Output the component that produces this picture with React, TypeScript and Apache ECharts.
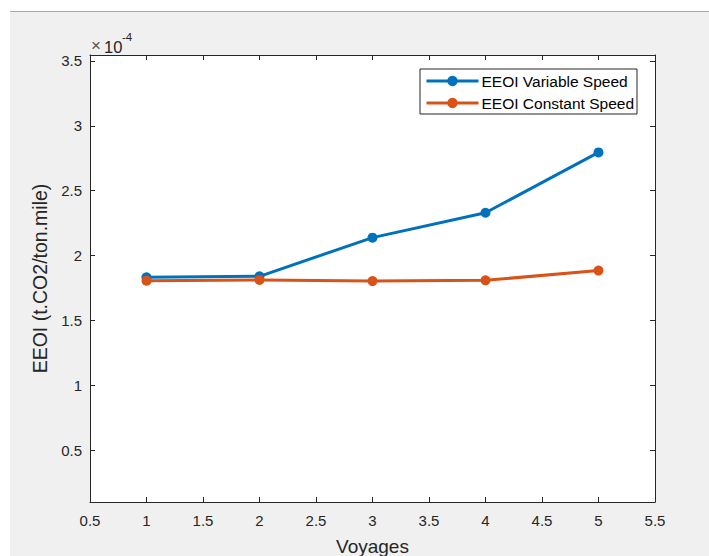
import React, { useEffect, useRef } from "react";
import * as echarts from "echarts";

const voyages = [1, 2, 3, 4, 5];
const eeoiVariable = [1.832e-4, 1.84e-4, 2.138e-4, 2.33e-4, 2.795e-4];
const eeoiConstant = [1.806e-4, 1.812e-4, 1.803e-4, 1.809e-4, 1.884e-4];
const yTicks = [0.5e-4, 1e-4, 1.5e-4, 2e-4, 2.5e-4, 3e-4, 3.5e-4];
const seriesNames = ["EEOI Variable Speed", "EEOI Constant Speed"];

const AX = "#262626";
const FONT = "Liberation Sans, Arial, sans-serif";

export default function App() {
  const ref = useRef<HTMLDivElement>(null);
  useEffect(() => {
    document.body.style.margin = "0";
    const chart = echarts.init(ref.current!, null, { renderer: "svg" });
    const fmtY = (v: number) => String(+(v * 1e4).toFixed(2));
    const tickCommon = { show: true, inside: true, length: 5, lineStyle: { color: AX, width: 1 } };
    chart.setOption({
      animation: false,
      textStyle: { fontFamily: FONT },
      grid: {
        left: 90, right: 54, top: 55, bottom: 54,
        containLabel: false, outerBoundsMode: "none",
        show: true, backgroundColor: "#ffffff", borderWidth: 0,
      },
      legend: {
        data: seriesNames,
        orient: "vertical",
        left: 420, top: 69,
        backgroundColor: "#ffffff",
        borderColor: AX, borderWidth: 1, borderRadius: 0,
        padding: [4, 3, 3, 5],
        itemWidth: 52, itemHeight: 13, itemGap: 6,
        lineStyle: { width: 3 },
        textStyle: { fontSize: 15.5, color: "#000", fontFamily: FONT, padding: [0, 0, 0, -2] },
      },
      xAxis: [
        {
          type: "value", min: 0.5, max: 5.5, interval: 0.5,
          splitLine: { show: false },
          axisLine: { show: true, onZero: false, lineStyle: { color: AX, width: 1 } },
          axisTick: tickCommon,
          axisLabel: { color: AX, fontSize: 15, margin: 11, fontFamily: FONT },
          name: "Voyages", nameLocation: "middle", nameGap: 35,
          nameTextStyle: { fontSize: 19, color: AX, fontFamily: FONT },
        },
        {
          type: "value", position: "top", min: 0.5, max: 5.5, interval: 0.5,
          splitLine: { show: false },
          axisLine: { show: true, onZero: false, lineStyle: { color: AX, width: 1 } },
          axisTick: tickCommon,
          axisLabel: { show: false },
        },
      ],
      yAxis: [
        {
          type: "value", min: 0.1e-4, max: 3.546e-4,
          splitLine: { show: false },
          axisLine: { show: true, onZero: false, lineStyle: { color: AX, width: 1 } },
          axisTick: { ...tickCommon, customValues: yTicks },
          axisLabel: { color: AX, fontSize: 15, margin: 8, customValues: yTicks, formatter: fmtY, fontFamily: FONT },
          name: "EEOI (t.CO2/ton.mile)", nameLocation: "middle", nameGap: 40,
          nameTextStyle: { fontSize: 19.5, color: AX, fontFamily: FONT },
        },
        {
          type: "value", position: "right", min: 0.1e-4, max: 3.546e-4,
          splitLine: { show: false },
          axisLine: { show: true, onZero: false, lineStyle: { color: AX, width: 1 } },
          axisTick: { ...tickCommon, customValues: yTicks },
          axisLabel: { show: false },
        },
      ],
      series: [
        {
          name: seriesNames[0], type: "line",
          data: voyages.map((v, i) => [v, eeoiVariable[i]]),
          color: "#0072BD",
          lineStyle: { width: 3, color: "#0072BD" },
          symbol: "circle", symbolSize: 10,
          itemStyle: { color: "#0072BD" },
          z: 3,
        },
        {
          name: seriesNames[1], type: "line",
          data: voyages.map((v, i) => [v, eeoiConstant[i]]),
          color: "#D95319",
          lineStyle: { width: 3, color: "#D95319" },
          symbol: "circle", symbolSize: 10,
          itemStyle: { color: "#D95319" },
          z: 4,
        },
      ],
      graphic: [
        {
          type: "text", left: 91, top: 37,
          style: { text: "×", fontSize: 17, fill: "#555", fontFamily: FONT },
        },
        {
          type: "text", left: 104, top: 38,
          style: { text: "10", fontSize: 16.5, fill: AX, fontFamily: FONT },
        },
        {
          type: "text", left: 122, top: 31,
          style: { text: "-4", fontSize: 11.5, fill: AX, fontFamily: FONT },
        },
      ],
    });
    return () => chart.dispose();
  }, []);
  return (
    <div style={{ position: "relative", width: 709, height: 556, background: "#ffffff", overflow: "hidden" }}>
      <div
        style={{
          position: "absolute", left: 10, top: 11, right: 0, bottom: 0,
          background: "#f0f0f0", borderTop: "1px solid #a8a8a8",
        }}
      />
      <div ref={ref} style={{ position: "absolute", left: 0, top: 0, width: 709, height: 556 }} />
    </div>
  );
}
